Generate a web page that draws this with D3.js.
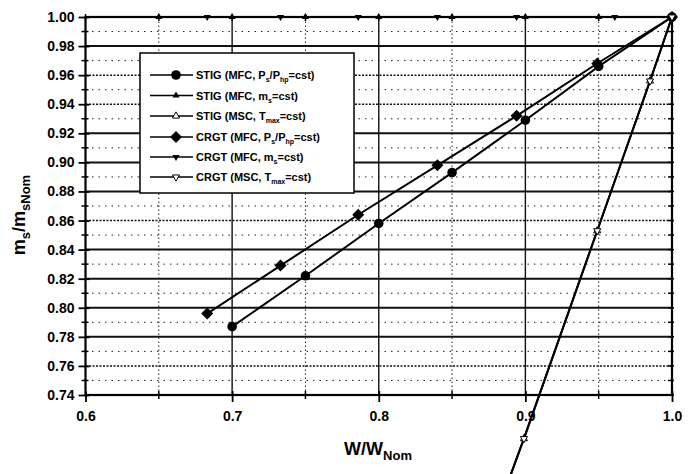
<!DOCTYPE html>
<html>
<head>
<meta charset="utf-8">
<script src="https://cdn.jsdelivr.net/npm/d3@7"></script>
<style>
  html, body { margin: 0; padding: 0; background: #fff; }
  svg { display: block; }
  text { font-family: "Liberation Sans", Arial, sans-serif; fill: #000; }
</style>
</head>
<body>
<svg id="chart" width="693" height="474"></svg>
<script>
// ---- data ----
const stigPsW = [0.700, 0.750, 0.800, 0.850, 0.900, 0.950, 1.000];
const stigPsM = [0.787, 0.822, 0.858, 0.893, 0.929, 0.966, 1.000];

const crgtPsW = [0.683, 0.733, 0.786, 0.840, 0.894, 0.949, 1.000];
const crgtPsM = [0.796, 0.829, 0.864, 0.898, 0.932, 0.968, 1.000];

const stigMsW = [0.650, 0.700, 0.750, 0.800, 0.850, 0.900, 0.950, 1.000];
const stigMsM = [1.000, 1.000, 1.000, 1.000, 1.000, 1.000, 1.000, 1.000];

const crgtMsW = [0.683, 0.733, 0.786, 0.840, 0.894, 0.961, 1.000];
const crgtMsM = [1.000, 1.000, 1.000, 1.000, 1.000, 1.000, 1.000];

const stigTmW = [1.000, 0.985, 0.949, 0.899, 0.870];
const stigTmM = [1.000, 0.956, 0.853, 0.710, 0.630];

const crgtTmW = [1.000, 0.985, 0.949, 0.899, 0.870];
const crgtTmM = [1.000, 0.956, 0.853, 0.710, 0.630];

const xTicks = [0.6, 0.7, 0.8, 0.9, 1.0];
const yTicks = [0.74, 0.76, 0.78, 0.80, 0.82, 0.84, 0.86, 0.88, 0.90, 0.92, 0.94, 0.96, 0.98, 1.00];
const yDotted = [0.76, 0.86, 0.94, 0.96];

const legendNames = [
  ["STIG (MFC, P", "s", "/P", "hp", "=cst)"],
  ["STIG (MFC, m", "s", "=cst)"],
  ["STIG (MSC, T", "max", "=cst)"],
  ["CRGT (MFC, P", "s", "/P", "hp", "=cst)"],
  ["CRGT (MFC, m", "s", "=cst)"],
  ["CRGT (MSC, T", "max", "=cst)"]
];

// ---- layout ----
const svg = d3.select("#chart");
const x = d3.scaleLinear().domain([0.6, 1.0]).range([85.5, 672]);
const y = d3.scaleLinear().domain([0.74, 1.00]).range([395, 17]);
const X0 = x.range()[0], X1 = x.range()[1], Y0 = y.range()[0], Y1 = y.range()[1];

const grid = svg.append("g");
// minor horizontal grid (every 0.01)
const minorY = d3.range(0.75, 1.0, 0.02).map(v => +v.toFixed(2));
grid.selectAll("line.my").data(minorY).join("line")
  .attr("x1", X0).attr("x2", X1).attr("y1", d => y(d)).attr("y2", d => y(d))
  .attr("stroke", "#222").attr("stroke-width", 1).attr("stroke-dasharray", "1.5,5");
// major horizontal grid
grid.selectAll("line.My").data(yTicks.slice(1, -1)).join("line")
  .attr("x1", X0).attr("x2", X1).attr("y1", d => y(d)).attr("y2", d => y(d))
  .attr("stroke", "#111")
  .attr("stroke-width", d => yDotted.includes(d) ? 1.5 : 2)
  .attr("stroke-dasharray", d => yDotted.includes(d) ? "2,1.5" : null);
// vertical grid
const minorX = [0.65, 0.75, 0.85, 0.95];
grid.selectAll("line.mx").data(minorX).join("line")
  .attr("x1", d => x(d)).attr("x2", d => x(d)).attr("y1", Y0).attr("y2", Y1)
  .attr("stroke", "#222").attr("stroke-width", 1).attr("stroke-dasharray", "1.5,2.5");
grid.selectAll("line.Mx").data(xTicks.slice(1, -1)).join("line")
  .attr("x1", d => x(d)).attr("x2", d => x(d)).attr("y1", Y0).attr("y2", Y1)
  .attr("stroke", "#111").attr("stroke-width", 1.4);

// frame
svg.append("rect").attr("x", X0).attr("y", Y1).attr("width", X1 - X0).attr("height", Y0 - Y1)
  .attr("fill", "none").attr("stroke", "#000").attr("stroke-width", 2.2);

// axes
const yAxis = d3.axisLeft(y).tickValues(yTicks).tickFormat(d3.format(".2f")).tickSize(6).tickPadding(4);
const gy = svg.append("g").attr("transform", `translate(${X0},0)`).call(yAxis);
gy.select(".domain").remove();
gy.selectAll(".tick line").attr("x2", -7).attr("x1", 4).attr("stroke-width", 1.8);
gy.selectAll(".tick text").attr("font-size", 14).attr("font-weight", "bold")
  .attr("font-family", "Liberation Sans, Arial, sans-serif").attr("x", -11);
// minor ticks left
svg.append("g").selectAll("line").data(minorY).join("line")
  .attr("x1", X0 - 4).attr("x2", X0 + 3).attr("y1", d => y(d)).attr("y2", d => y(d))
  .attr("stroke", "#000").attr("stroke-width", 1.5);
// right side inner ticks
svg.append("g").selectAll("line").data(yTicks.concat(minorY)).join("line")
  .attr("x1", X1 - 4).attr("x2", X1 + 2).attr("y1", d => y(d)).attr("y2", d => y(d))
  .attr("stroke", "#000").attr("stroke-width", 1.5);

const xAxis = d3.axisBottom(x).tickValues(xTicks).tickFormat(d3.format(".1f")).tickSize(6).tickPadding(5);
const gx = svg.append("g").attr("transform", `translate(0,${Y0})`).call(xAxis);
gx.select(".domain").remove();
gx.selectAll(".tick line").attr("y1", -4).attr("y2", 7).attr("stroke-width", 1.8);
gx.selectAll(".tick text").attr("font-size", 14).attr("font-weight", "bold")
  .attr("font-family", "Liberation Sans, Arial, sans-serif").attr("y", 16);
svg.append("g").selectAll("line").data(minorX).join("line")
  .attr("x1", d => x(d)).attr("x2", d => x(d)).attr("y1", Y0 - 4).attr("y2", Y0 + 4)
  .attr("stroke", "#000").attr("stroke-width", 1.5);
// top ticks
svg.append("g").selectAll("line").data(xTicks.concat(minorX)).join("line")
  .attr("x1", d => x(d)).attr("x2", d => x(d)).attr("y1", Y1 - 3).attr("y2", Y1 + 4)
  .attr("stroke", "#000").attr("stroke-width", 1.5);

// axis titles
const xt = svg.append("text").attr("x", 378).attr("y", 455).attr("text-anchor", "middle")
  .attr("font-size", 18).attr("font-weight", "bold");
xt.append("tspan").text("W/W");
xt.append("tspan").attr("dy", 5).attr("font-size", 13).text("Nom");

const yt = svg.append("text").attr("transform", "translate(25,215) rotate(-90)")
  .attr("text-anchor", "middle").attr("font-size", 18).attr("font-weight", "bold");
yt.append("tspan").text("m");
yt.append("tspan").attr("dy", 5).attr("font-size", 13).text("s");
yt.append("tspan").attr("dy", -5).text("/m");
yt.append("tspan").attr("dy", 5).attr("font-size", 13).text("sNom");

// ---- series ----
const line = d3.line().x(d => x(d[0])).y(d => y(d[1]));
const zip = (a, b) => a.map((v, i) => [v, b[i]]);

const symTri = d3.symbol().type(d3.symbolTriangle);

const series = [
  { pts: zip(stigPsW, stigPsM), marker: "circle" },
  { pts: zip(stigMsW, stigMsM), marker: "triUp" },
  { pts: zip(stigTmW, stigTmM), marker: "triUpOpen" },
  { pts: zip(crgtPsW, crgtPsM), marker: "diamond" },
  { pts: zip(crgtMsW, crgtMsM), marker: "triDown" },
  { pts: zip(crgtTmW, crgtTmM), marker: "triDownOpen" }
];

function drawMarker(g, type, cx, cy) {
  if (type === "circle") {
    g.append("circle").attr("cx", cx).attr("cy", cy).attr("r", 4.8).attr("fill", "#000");
  } else if (type === "diamond") {
    g.append("path").attr("d", "M0,-6L6,0L0,6L-6,0Z").attr("transform", `translate(${cx},${cy})`).attr("fill", "#000");
  } else if (type === "triUp") {
    g.append("path").attr("d", symTri.size(22)()).attr("transform", `translate(${cx},${cy})`).attr("fill", "#000");
  } else if (type === "triDown") {
    g.append("path").attr("d", symTri.size(22)()).attr("transform", `translate(${cx},${cy}) rotate(180)`).attr("fill", "#000");
  } else if (type === "triUpOpen") {
    g.append("path").attr("d", symTri.size(22)()).attr("transform", `translate(${cx},${cy})`).attr("fill", "#fff").attr("stroke", "#000").attr("stroke-width", 1);
  } else if (type === "triDownOpen") {
    g.append("path").attr("d", symTri.size(22)()).attr("transform", `translate(${cx},${cy}) rotate(180)`).attr("fill", "#fff").attr("stroke", "#000").attr("stroke-width", 1);
  }
}

const gs = svg.append("g");
series.forEach(s => {
  gs.append("path").attr("d", line(s.pts)).attr("fill", "none")
    .attr("stroke", "#000").attr("stroke-width", 2);
});
series.forEach(s => {
  s.pts.forEach(p => drawMarker(gs, s.marker, x(p[0]), y(p[1])));
});

// ---- legend ----
const lg = svg.append("g");
lg.append("rect").attr("x", 140).attr("y", 53).attr("width", 214).attr("height", 140)
  .attr("fill", "#fff").attr("stroke", "#000").attr("stroke-width", 1.5);
const rowY = [75, 95.5, 116, 137, 157, 177];
legendNames.forEach((parts, i) => {
  const ry = rowY[i];
  lg.append("line").attr("x1", 150).attr("x2", 193).attr("y1", ry).attr("y2", ry)
    .attr("stroke", "#000").attr("stroke-width", 1.6);
  drawMarker(lg, series[i].marker, 176, ry);
  const t = lg.append("text").attr("x", 196).attr("y", ry + 4).attr("font-size", 11).attr("font-weight", "bold");
  parts.forEach((p, j) => {
    const ts = t.append("tspan").text(p);
    if (j % 2 === 1) { ts.attr("dy", 3).attr("font-size", 7); }
    else if (j > 0) { ts.attr("dy", -3); }
  });
});
</script>
</body>
</html>
